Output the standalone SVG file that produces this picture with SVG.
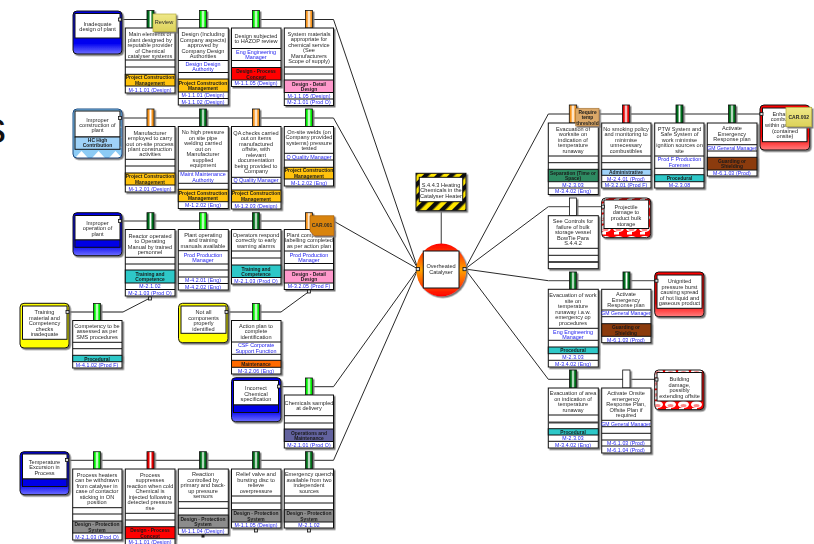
<svg xmlns="http://www.w3.org/2000/svg" width="814" height="544" viewBox="0 0 814 544">
<style>
text{font-family:"Liberation Sans",Arial,sans-serif;text-anchor:middle;fill:#2a2a2a;font-size:5.6px}
.a,.i{fill:#2222ee}
.a{font-size:5.4px}
.i{font-size:5.2px;letter-spacing:.1px}
.m{fill:#1a1a1a;font-weight:bold;font-size:4.9px}
.b{fill:#fff;stroke:#111;stroke-width:1}
.n{filter:url(#sh)}
.ln{fill:none;stroke:#111;stroke-width:1}
.c{fill:none;stroke:#111;stroke-width:.9}
.cg{fill:none;stroke:#666;stroke-width:1.3}
.t{stroke:#111;stroke-width:.8}
.dg{fill:url(#gd)}.bg{fill:url(#gb)}.or{fill:url(#go)}.rd{fill:url(#gr)}.wt{fill:#fff}
.amb{fill:#ffc20e}.pnk{fill:#ff99cc}.tl{fill:#2ec8c8}.gry{fill:#8c8c8c}.red{fill:#f00}.org{fill:#ff6a00}.nav{fill:#62629e}.brn{fill:#8b3a0c}.sep{fill:#2e8b62}.lbl{fill:#9fd2f8}
.bn{stroke:#111;stroke-width:1}
.p{fill:#ddd;stroke:#111;stroke-width:.8}
.th{stroke:#111;stroke-width:1}
</style>
<defs>
<filter id="sh" x="-10%" y="-10%" width="120%" height="120%"><feDropShadow dx="1.5" dy="1.5" stdDeviation=".4" flood-color="#777"/></filter>
<linearGradient id="gd"><stop offset="0" stop-color="#005a14"/><stop offset=".25" stop-color="#00731c"/><stop offset=".5" stop-color="#fff"/><stop offset=".75" stop-color="#00731c"/><stop offset="1" stop-color="#005a14"/></linearGradient>
<linearGradient id="gb"><stop offset="0" stop-color="#00e000"/><stop offset=".22" stop-color="#00f000"/><stop offset=".5" stop-color="#fff"/><stop offset=".78" stop-color="#00f000"/><stop offset="1" stop-color="#00e000"/></linearGradient>
<linearGradient id="go"><stop offset="0" stop-color="#f7941d"/><stop offset=".22" stop-color="#f7941d"/><stop offset=".5" stop-color="#fff"/><stop offset=".78" stop-color="#f7941d"/><stop offset="1" stop-color="#f7941d"/></linearGradient>
<linearGradient id="gr"><stop offset="0" stop-color="#e60000"/><stop offset=".22" stop-color="#e60000"/><stop offset=".5" stop-color="#fff"/><stop offset=".78" stop-color="#e60000"/><stop offset="1" stop-color="#e60000"/></linearGradient>
<linearGradient id="vb" x2="0" y2="1"><stop offset="0" stop-color="#0000e0"/><stop offset=".75" stop-color="#0000f0"/><stop offset="1" stop-color="#7070ff"/></linearGradient>
<linearGradient id="vr" x2="0" y2="1"><stop offset="0" stop-color="#f00"/><stop offset=".7" stop-color="#f00"/><stop offset="1" stop-color="#ff8080"/></linearGradient>
<linearGradient id="te" x2="0" y2="1"><stop offset="0" stop-color="#f00"/><stop offset=".5" stop-color="#ffa500"/><stop offset="1" stop-color="#f00"/></linearGradient>
<linearGradient id="nt" x2="0" y2="1"><stop offset="0" stop-color="#efe888"/><stop offset="1" stop-color="#dcd25a"/></linearGradient>
<pattern id="hz" width="9" height="9" patternUnits="userSpaceOnUse" patternTransform="rotate(45)"><rect width="9" height="9" fill="#ffe600"/><rect width="4.5" height="9" fill="#111"/></pattern>
<pattern id="ck" width="13" height="11" patternUnits="userSpaceOnUse" patternTransform="translate(1 1)"><rect width="13" height="11" fill="#f00"/><ellipse cx="6.5" cy="7.5" rx="5.5" ry="3.5" fill="#fff"/><ellipse cx="6.5" cy="8.5" rx="3" ry="1.6" fill="#f88"/><rect x="2" y="0" width="5" height="2.5" fill="#fff"/></pattern>
<pattern id="ld" width="17" height="10" patternUnits="userSpaceOnUse" patternTransform="translate(73 149)"><rect width="17" height="10" fill="#8ccbf5"/><path d="M8.5 2L15 9H2Z" fill="#fff"/></pattern>
</defs>
<rect width="814" height="544" fill="#fff"/>
<text x="-16" y="143" style="font-size:44px;fill:#111;text-anchor:start">s</text>
<g id="connectors">
<path class="c" d="M122 19.5H333.5L418 269"/>
<path class="c" d="M122 118H333.5L418 269"/>
<path class="c" d="M122 221H333.5L418 269"/>
<path class="c" d="M281 386.7H333.5L418 269"/>
<path class="c" d="M69 460.3H333.5L418 269"/>
<path class="cg" d="M69 312H123"/><path class="c" d="M123 312L150 298"/>
<path class="cg" d="M228 312H281"/><path class="c" d="M281 312L309 291.5"/>
<path class="cg" d="M441.3 210.7V244"/>
<path class="c" d="M465 269L548.3 114H760"/>
<path class="c" d="M465 269L548.3 206.7"/><path class="cg" d="M548.3 206.7H602"/>
<path class="c" d="M465 269L548.3 280.7"/><path class="cg" d="M548.3 280.7H655"/>
<path class="c" d="M465 269L548.3 379.3H655"/>
</g>

<g id="threat-design" class="n"><rect x="73" y="11" width="49" height="43" rx="4" fill="url(#vb)" class="th"/><rect class="b" x="75" y="13.5" width="45" height="24.5"/><text x="97.5" y="26">Inadequate<tspan x="97.5" dy="5.3">design of plant</tspan></text><rect class="p" x="118.5" y="18" width="3" height="3"/></g>

<g id="b11" class="n"><rect class="t dg" x="147" y="10.5" width="7" height="17.5"/><rect class="b" x="125.3" y="28" width="49.7" height="65"/><rect class="bn amb" x="125.3" y="74.3" width="49.7" height="11.7"/><path class="ln" d="M125.3 60H175M125.3 67H175"/>
<text x="150" y="36">Main elements of<tspan x="150" dy="5.5">plant designed by</tspan><tspan x="150" dy="5.5">reputable provider</tspan><tspan x="150" dy="5.5">of Chemical</tspan><tspan x="150" dy="5.5">catalyser systems</tspan></text><text class="m" x="150" y="79.4">Project Construction<tspan x="150" dy="5.5">Management</tspan></text><text class="i" x="150" y="91.5">M-1.1.01 (Design)</text></g>

<g id="note-review" class="n"><rect x="153" y="14" width="23" height="17.7" fill="url(#nt)" stroke="#b5ad3e" stroke-width=".7"/><text x="164" y="24.2">Review</text></g>

<g id="b12" class="n"><rect class="t bg" x="199.5" y="10.5" width="7" height="17.5"/><rect class="b" x="178.3" y="28" width="50" height="77"/><rect class="bn amb" x="178.3" y="79" width="50" height="13"/><path class="ln" d="M178.3 60.5H228.3M178.3 72.5H228.3M178.3 98.5H228.3"/>
<text x="203" y="36">Design (Including<tspan x="203" dy="5.5">Company aspects)</tspan><tspan x="203" dy="5.5">approved by</tspan><tspan x="203" dy="5.5">Company Design</tspan><tspan x="203" dy="5.5">Authorities</tspan></text><text class="a" x="203" y="65.75">Design Design<tspan x="203" dy="5.5">Authority</tspan></text><text class="m" x="203" y="84.75">Project Construction<tspan x="203" dy="5.5">Management</tspan></text><text class="i" x="203" y="97.2">M-1.1.01 (Design)</text><text class="i" x="203" y="103.7">M-1.1.02 (Design)</text></g>

<g id="b13" class="n"><rect class="t bg" x="252.5" y="10.5" width="7" height="17.5"/><rect class="b" x="231.5" y="28" width="49.5" height="58.5"/><rect class="bn red" x="231.5" y="67.5" width="49.5" height="12.5"/><path class="ln" d="M231.5 48.5H281M231.5 60.5H281"/>
<text x="256" y="37.7">Design subjected<tspan x="256" dy="5.2">to HAZOP review</tspan></text><text class="a" x="256" y="53.75">Eng Engineering<tspan x="256" dy="5.5">Manager</tspan></text><text class="m" x="256" y="73">Design - Process<tspan x="256" dy="5.5">Concept</tspan></text><text class="i" x="256" y="85.2">M-1.1.05 (Design)</text></g>

<g id="b14" class="n"><rect class="t or" x="305.5" y="10.5" width="7" height="17.5"/><rect class="b" x="284.3" y="28" width="49.2" height="77.5"/><rect class="bn pnk" x="284.3" y="80" width="49.2" height="12.5"/><path class="ln" d="M284.3 67H333.5M284.3 74H333.5M284.3 99H333.5"/>
<text x="309" y="35.75">System materials<tspan x="309" dy="5.5">appropriate for</tspan><tspan x="309" dy="5.5">chemical service</tspan><tspan x="309" dy="5.5">(See</tspan><tspan x="309" dy="5.5">Manufacturers</tspan><tspan x="309" dy="5.5">Scope of supply)</tspan></text><text class="m" x="309" y="85.5">Design - Detail<tspan x="309" dy="5.5">Design</tspan></text><text class="i" x="309" y="97.7">M-1.1.05 (Design)</text><text class="i" x="309" y="104.2">M-2.1.01 (Prod O)</text></g>

<g id="threat-construction" class="n"><rect x="73" y="109" width="49" height="49" rx="4" fill="url(#ld)" stroke="#1a4a80" stroke-width="1"/><rect class="b" x="75" y="111" width="45" height="26"/><rect class="bn lbl" x="75" y="137" width="45" height="12.3"/><text x="97.5" y="121.7">Improper<tspan x="97.5" dy="5.3">construction of</tspan><tspan x="97.5" dy="5.3">plant</tspan></text><text class="m" x="97.5" y="142">HC High<tspan x="97.5" dy="5">Contribution</tspan></text><rect class="p" x="118.5" y="116.5" width="3" height="3"/></g>

<g id="b21" class="n"><rect class="t or" x="147" y="109" width="7" height="17.5"/><rect class="b" x="125.3" y="126.5" width="49.7" height="65.5"/><rect class="bn amb" x="125.3" y="173" width="49.7" height="12"/><path class="ln" d="M125.3 159.3H175M125.3 166H175"/>
<text x="150" y="134.7">Manufacturer<tspan x="150" dy="5.4">employed to carry</tspan><tspan x="150" dy="5.4">out on-site process</tspan><tspan x="150" dy="5.4">plant construction</tspan><tspan x="150" dy="5.4">activities</tspan></text><text class="m" x="150" y="178.25">Project Construction<tspan x="150" dy="5.5">Management</tspan></text><text class="i" x="150" y="190.5">M-1.2.01 (Design)</text></g>

<g id="b22" class="n"><rect class="t dg" x="199.5" y="109" width="7" height="17.5"/><rect class="b" x="178.3" y="126.5" width="50" height="82"/><rect class="bn amb" x="178.3" y="189.3" width="50" height="12.4"/><path class="ln" d="M178.3 171H228.3M178.3 183.3H228.3"/>
<text x="203" y="134.25">No high pressure<tspan x="203" dy="5.5">on site pipe</tspan><tspan x="203" dy="5.5">welding carried</tspan><tspan x="203" dy="5.5">out on</tspan><tspan x="203" dy="5.5">Manufacturer</tspan><tspan x="203" dy="5.5">supplied</tspan><tspan x="203" dy="5.5">equipment</tspan></text><text class="a" x="203" y="176.4">Maint Maintenance<tspan x="203" dy="5.5">Authority</tspan></text><text class="m" x="203" y="194.75">Project Construction<tspan x="203" dy="5.5">Management</tspan></text><text class="i" x="203" y="207.1">M-1.2.02 (Eng)</text></g>

<g id="b23" class="n"><rect class="t or" x="252.5" y="109" width="7" height="17.5"/><rect class="b" x="231.5" y="126.5" width="49.5" height="82.5"/><rect class="bn amb" x="231.5" y="190" width="49.5" height="12"/><path class="ln" d="M231.5 177.3H281M231.5 183.3H281"/>
<text x="256" y="134.65">QA checks carried<tspan x="256" dy="5.5">out on items</tspan><tspan x="256" dy="5.5">manufactured</tspan><tspan x="256" dy="5.5">offsite, with</tspan><tspan x="256" dy="5.5">relevant</tspan><tspan x="256" dy="5.5">documentation</tspan><tspan x="256" dy="5.5">being provided to</tspan><tspan x="256" dy="5.5">Company</tspan></text><text class="a" x="256" y="182.3">Q Quality Manager</text><text class="m" x="256" y="195.25">Project Construction<tspan x="256" dy="5.5">Management</tspan></text><text class="i" x="256" y="207.5">M-1.2.03 (Design)</text></g>

<g id="b24" class="n"><rect class="t bg" x="305.5" y="109" width="7" height="17.5"/><rect class="b" x="284.3" y="126.5" width="49.2" height="59.5"/><rect class="bn amb" x="284.3" y="167.3" width="49.2" height="11.7"/><path class="ln" d="M284.3 153.3H333.5M284.3 160H333.5"/>
<text x="309" y="133.65">On-site welds (on<tspan x="309" dy="5.5">Company provided</tspan><tspan x="309" dy="5.5">systems) pressure</tspan><tspan x="309" dy="5.5">tested</tspan></text><text class="a" x="309" y="158.65">Q Quality Manager</text><text class="m" x="309" y="172.4">Project Construction<tspan x="309" dy="5.5">Management</tspan></text><text class="i" x="309" y="184.5">M-1.2.02 (Eng)</text></g>

<g id="threat-operation" class="n"><rect x="73" y="212.7" width="49" height="43" rx="4" fill="url(#vb)" class="th"/><rect class="b" x="75" y="215.5" width="45" height="24.5"/><rect x="75" y="240" width="45" height="7.3" fill="#0000e6" stroke="#111" stroke-width="1"/><text x="97.5" y="224.7">Improper<tspan x="97.5" dy="5.5">operation of</tspan><tspan x="97.5" dy="5.5">plant</tspan></text><rect class="p" x="118.5" y="219.5" width="3" height="3"/></g>

<g id="b31" class="n"><rect class="t dg" x="147" y="212.7" width="7" height="16.8"/><rect class="b" x="125.3" y="229.5" width="49.7" height="66.5"/><rect class="bn tl" x="125.3" y="270" width="49.7" height="13"/><path class="ln" d="M125.3 257.3H175M125.3 264H175M125.3 289.5H175"/>
<text x="150" y="237.7">Reactor operated<tspan x="150" dy="5.5">to Operating</tspan><tspan x="150" dy="5.5">Manual by trained</tspan><tspan x="150" dy="5.5">personnel</tspan></text><text class="m" x="150" y="275.75">Training and<tspan x="150" dy="5.5">Competence</tspan></text><text class="i" x="150" y="288.25">M-2.1.02</text><text class="i" x="150" y="294.75">M-2.1.03 (Prod O)</text></g>

<g id="b32" class="n"><rect class="t bg" x="199.5" y="212.7" width="7" height="16.8"/><rect class="b" x="178.3" y="229.5" width="50" height="60.5"/><path class="ln" d="M178.3 250.7H228.3M178.3 264H228.3M178.3 270H228.3M178.3 277H228.3M178.3 283.5H228.3"/>
<text x="203" y="236.6">Plant operating<tspan x="203" dy="5.5">and training</tspan><tspan x="203" dy="5.5">manuals available</tspan></text><text class="a" x="203" y="256.6">Prod Production<tspan x="203" dy="5.5">Manager</tspan></text><text class="i" x="203" y="282.25">M-4.2.01 (Eng)</text><text class="i" x="203" y="288.75">M-4.2.02 (Eng)</text></g>

<g id="b33" class="n"><rect class="t dg" x="252.5" y="212.7" width="7" height="16.8"/><rect class="b" x="231.5" y="229.5" width="49.5" height="54.5"/><rect class="bn tl" x="231.5" y="265" width="49.5" height="12.5"/><path class="ln" d="M231.5 251H281M231.5 258H281"/>
<text x="256" y="236.8">Operators respond<tspan x="256" dy="5.5">correctly to early</tspan><tspan x="256" dy="5.5">warning alarms</tspan></text><text class="m" x="256" y="270.5">Training and<tspan x="256" dy="5.5">Competence</tspan></text><text class="i" x="256" y="282.75">M-2.1.03 (Prod O)</text></g>

<g id="b34" class="n"><rect class="t or" x="305.5" y="212.7" width="7" height="16.8"/><rect class="b" x="284.3" y="229.5" width="49.2" height="60"/><rect class="bn pnk" x="284.3" y="270" width="49.2" height="13"/><path class="ln" d="M284.3 251H333.5M284.3 263.5H333.5"/>
<text x="309" y="236.8">Plant components<tspan x="309" dy="5.5">labelling completed</tspan><tspan x="309" dy="5.5">as per action plan</tspan></text><text class="a" x="309" y="256.5">Prod Production<tspan x="309" dy="5.5">Manager</tspan></text><text class="m" x="309" y="275.75">Design - Detail<tspan x="309" dy="5.5">Design</tspan></text><text class="i" x="309" y="288.25">M-3.2.05 (Prod F)</text></g>

<g id="note-car001" class="n"><path d="M310 215.7H334V235.7L314 235.7L310 231Z" fill="#d9840c" stroke="#a86000" stroke-width=".7"/><text x="322" y="227" style="font-weight:bold;font-size:5px">CAR.001</text></g>

<g id="threat-training" class="n"><rect x="20" y="303.3" width="49" height="44.7" rx="4" fill="#ff0" class="th"/><rect class="b" x="22.5" y="306" width="44.5" height="33.3"/><text x="44.5" y="314">Training<tspan x="44.5" dy="5.5">material and</tspan><tspan x="44.5" dy="5.5">Competency</tspan><tspan x="44.5" dy="5.5">checks</tspan><tspan x="44.5" dy="5.5">inadequate</tspan></text><rect class="p" x="66" y="310.5" width="3" height="3"/></g>

<g id="b35" class="n"><rect class="t bg" x="93.5" y="303.5" width="7" height="17"/><rect class="b" x="72.7" y="320.5" width="49.3" height="47.5"/><rect class="bn tl" x="72.7" y="355.3" width="49.3" height="6.4"/><path class="ln" d="M72.7 342.3H122M72.7 348.7H122"/>
<text x="97" y="327.9">Competency to be<tspan x="97" dy="5.5">assessed as per</tspan><tspan x="97" dy="5.5">SMS procedures</tspan></text><text class="m" x="97" y="360.5">Procedural</text><text class="i" x="97" y="366.85">M-4.1.02 (Prod F)</text></g>
<rect class="p" x="148.5" y="297" width="3" height="3" fill="#333"/>

<g id="threat-components" class="n"><rect x="178.5" y="303.3" width="49.5" height="39.4" rx="4" fill="#ff0" class="th"/><rect class="b" x="181" y="306" width="45" height="27.3"/><text x="203.5" y="314">Not all<tspan x="203.5" dy="5.5">components</tspan><tspan x="203.5" dy="5.5">properly</tspan><tspan x="203.5" dy="5.5">identified</tspan></text><rect class="p" x="225" y="310.5" width="3" height="3"/></g>

<g id="b36" class="n"><rect class="t bg" x="252.5" y="303.5" width="7" height="17"/><rect class="b" x="231.5" y="320.5" width="49.5" height="53.5"/><rect class="bn org" x="231.5" y="360.3" width="49.5" height="7"/><path class="ln" d="M231.5 342H281M231.5 354.3H281"/>
<text x="256" y="327.75">Action plan to<tspan x="256" dy="5.5">complete</tspan><tspan x="256" dy="5.5">identification</tspan></text><text class="a" x="256" y="347.4">CSF Corporate<tspan x="256" dy="5.5">Support Function</tspan></text><text class="m" x="256" y="365.8">Maintenance</text><text class="i" x="256" y="372.65">M-3.2.06 (Eng)</text></g>
<rect class="p" x="307.5" y="290" width="3" height="3"/>

<g id="threat-chemical" class="n"><rect x="231.5" y="377.7" width="49.5" height="44" rx="4" fill="url(#vb)" class="th"/><rect class="b" x="233.5" y="380.5" width="45" height="24.5"/><rect x="233.5" y="405" width="45" height="7.5" fill="#0000e6" stroke="#111" stroke-width="1"/><text x="256" y="390">Incorrect<tspan x="256" dy="5.7">Chemical</tspan><tspan x="256" dy="5.3">specification</tspan></text><rect class="p" x="277.5" y="385" width="3" height="3"/></g>

<g id="b37" class="n"><rect class="t bg" x="305.5" y="378" width="7" height="17"/><rect class="b" x="284.3" y="395" width="49.2" height="53"/><rect class="bn nav" x="284.3" y="429" width="49.2" height="12.5"/><path class="ln" d="M284.3 415.7H333.5M284.3 423H333.5"/>
<text x="309" y="404.6">Chemicals sampled<tspan x="309" dy="5.5">at delivery</tspan></text><text class="m" x="309" y="434.5">Operations and<tspan x="309" dy="5.5">Maintenance</tspan></text><text class="i" x="309" y="446.75">M-2.1.01 (Prod O)</text></g>

<g id="threat-temperature" class="n"><rect x="20" y="451.7" width="49" height="43" rx="4" fill="url(#vb)" class="th"/><rect class="b" x="22.5" y="454" width="44.5" height="25"/><rect x="22.5" y="479" width="44.5" height="7.5" fill="#0000e6" stroke="#111" stroke-width="1"/><text x="44.5" y="463.7">Temperature<tspan x="44.5" dy="5.5">Excursion in</tspan><tspan x="44.5" dy="5.5">Process</tspan></text><rect class="p" x="65.5" y="458.5" width="3" height="3"/></g>

<g id="b51" class="n"><rect class="t bg" x="93.5" y="451.7" width="7" height="17.3"/><rect class="b" x="72.7" y="469" width="49.3" height="71"/><rect class="bn gry" x="72.7" y="521" width="49.3" height="12"/><path class="ln" d="M72.7 507.7H122M72.7 514H122"/>
<text x="97" y="476.6">Process heaters<tspan x="97" dy="5.5">can be withdrawn</tspan><tspan x="97" dy="5.5">from catalyser in</tspan><tspan x="97" dy="5.5">case of contactor</tspan><tspan x="97" dy="5.5">sticking in ON</tspan><tspan x="97" dy="5.5">position</tspan></text><text class="m" x="97" y="526.25">Design - Protection<tspan x="97" dy="5.5">System</tspan></text><text class="i" x="97" y="538.5">M-2.1.03 (Prod O)</text></g>

<g id="b52" class="n"><rect class="t rd" x="147" y="451.7" width="7" height="17.3"/><rect class="b" x="125.3" y="469" width="49.7" height="76"/><rect class="bn red" x="125.3" y="526.7" width="49.7" height="12"/><path class="ln" d="M125.3 513.3H175M125.3 520H175"/>
<text x="150" y="476.65">Process<tspan x="150" dy="5.5">suppresses</tspan><tspan x="150" dy="5.5">reaction when cold</tspan><tspan x="150" dy="5.5">Chemical is</tspan><tspan x="150" dy="5.5">injected following</tspan><tspan x="150" dy="5.5">detected pressure</tspan><tspan x="150" dy="5.5">rise</tspan></text><text class="m" x="150" y="532">Design - Process<tspan x="150" dy="5.5">Concept</tspan></text><text class="i" x="150" y="543.9">M-1.1.01 (Design)</text></g>

<g id="b53" class="n"><rect class="t dg" x="199.5" y="451.7" width="7" height="17.3"/><rect class="b" x="178.3" y="469" width="50" height="65.3"/><rect class="bn gry" x="178.3" y="515" width="50" height="13"/><path class="ln" d="M178.3 501.7H228.3M178.3 508.3H228.3"/>
<text x="203" y="476.35">Reaction<tspan x="203" dy="5.5">controlled by</tspan><tspan x="203" dy="5.5">primary and back-</tspan><tspan x="203" dy="5.5">up pressure</tspan><tspan x="203" dy="5.5">sensors</tspan></text><text class="m" x="203" y="520.75">Design - Protection<tspan x="203" dy="5.5">System</tspan></text><text class="i" x="203" y="533.15">M-1.1.04 (Design)</text></g>
<rect x="201.5" y="534.5" width="3" height="3" fill="#222"/>

<g id="b54" class="n"><rect class="t dg" x="252.5" y="451.7" width="7" height="17.3"/><rect class="b" x="231.5" y="469" width="49.5" height="59"/><rect class="bn gry" x="231.5" y="509.7" width="49.5" height="12.3"/><path class="ln" d="M231.5 496H281M231.5 503H281"/>
<text x="256" y="476.25">Relief valve and<tspan x="256" dy="5.5">bursting disc to</tspan><tspan x="256" dy="5.5">relieve</tspan><tspan x="256" dy="5.5">overpressure</tspan></text><text class="m" x="256" y="515.1">Design - Protection<tspan x="256" dy="5.5">System</tspan></text><text class="i" x="256" y="527">M-1.1.05 (Design)</text></g>
<rect class="p" x="254.5" y="529" width="3" height="3"/>

<g id="b55" class="n"><rect class="t dg" x="305.5" y="451.7" width="7" height="17.3"/><rect class="b" x="284.3" y="469" width="49.2" height="59"/><rect class="bn gry" x="284.3" y="509.7" width="49.2" height="12.3"/><path class="ln" d="M284.3 496H333.5M284.3 503H333.5"/>
<text x="309" y="476.25">Emergency quench<tspan x="309" dy="5.5">available from two</tspan><tspan x="309" dy="5.5">independent</tspan><tspan x="309" dy="5.5">sources</tspan></text><text class="m" x="309" y="515.1">Design - Protection<tspan x="309" dy="5.5">System</tspan></text><text class="i" x="309" y="527">M-2.1.02</text></g>
<rect class="p" x="307.5" y="529" width="3" height="3"/>

<g id="hazard" class="n"><rect x="416" y="173.3" width="50" height="37.4" fill="url(#hz)" stroke="#111"/><rect class="b" x="419.3" y="177.3" width="43.4" height="24.4"/><text x="441" y="187">S.4.4.3 Heating<tspan x="441" dy="5.2">Chemicals in the</tspan><tspan x="441" dy="5.4">Catalyser Heater</tspan></text></g>

<g id="top-event" class="n"><ellipse cx="441.3" cy="270" rx="25" ry="26.5" fill="url(#te)"/><rect class="b" x="423.3" y="251" width="35.7" height="37"/><text x="441" y="268">Overheated<tspan x="441" dy="5.5">Catalyser</tspan></text><rect class="p" x="416.2" y="267.5" width="3.2" height="3.2"/><rect class="p" x="463" y="267.5" width="3.2" height="3.2"/></g>

<g id="a1" class="n"><rect class="t or" x="569.3" y="105" width="7.4" height="18"/><rect class="b" x="548.3" y="123" width="50" height="71.5"/><rect class="bn sep" x="548.3" y="169.3" width="50" height="12.4"/><path class="ln" d="M548.3 156H598.3M548.3 162.7H598.3M548.3 188H598.3"/>
<text x="573" y="130.5">Evacuation of<tspan x="573" dy="5.5">worksite on</tspan><tspan x="573" dy="5.5">indication of</tspan><tspan x="573" dy="5.5">temperature</tspan><tspan x="573" dy="5.5">runaway</tspan></text><text class="m" x="573" y="174.75">Separation (Time or<tspan x="573" dy="5.5">Space)</tspan></text><text class="i" x="573" y="186.85">M-2.3.03</text><text class="i" x="573" y="193.25">M-3.4.02 (Eng)</text></g>
<g id="note-require" class="n"><rect x="575.7" y="108.3" width="23.3" height="17.7" fill="#dba868" stroke="#a8783c" stroke-width=".7"/><text x="587.5" y="113.5" class="m">Require<tspan x="587.5" dy="5.5">temp</tspan><tspan x="587.5" dy="5.5">threshold</tspan></text></g>

<g id="a2" class="n"><rect class="t rd" x="622.5" y="105" width="7" height="18"/><rect class="b" x="601.7" y="123" width="49.3" height="65"/><rect class="bn lbl" x="601.7" y="169.3" width="49.3" height="6"/><path class="ln" d="M601.7 156H651M601.7 162.7H651M601.7 181.7H651"/>
<text x="626" y="130.5">No smoking policy<tspan x="626" dy="5.5">and monitoring to</tspan><tspan x="626" dy="5.5">minimise</tspan><tspan x="626" dy="5.5">unnecessary</tspan><tspan x="626" dy="5.5">combustibles</tspan></text><text class="m" x="626" y="174.3">Administrative</text><text class="i" x="626" y="180.5">M-2.4.01 (Prod)</text><text class="i" x="626" y="186.85">M-3.2.01 (Prod F)</text></g>

<g id="a3" class="n"><rect class="t dg" x="676" y="105" width="7" height="18"/><rect class="b" x="654.7" y="123" width="49.3" height="65"/><rect class="bn tl" x="654.7" y="174.7" width="49.3" height="7"/><path class="ln" d="M654.7 156H704M654.7 168.3H704"/>
<text x="679.5" y="130.5">PTW System and<tspan x="679.5" dy="5.5">Safe System of</tspan><tspan x="679.5" dy="5.5">work minimise</tspan><tspan x="679.5" dy="5.5">ignition sources on</tspan><tspan x="679.5" dy="5.5">site</tspan></text><text class="a" x="679.5" y="161.4">Prod F Production<tspan x="679.5" dy="5.5">Foremen</tspan></text><text class="m" x="679.5" y="180.2">Procedural</text><text class="i" x="679.5" y="186.85">M-2.3.08</text></g>

<g id="a4" class="n"><rect class="t dg" x="728.5" y="105" width="7" height="18"/><rect class="b" x="707.3" y="123" width="49.7" height="53"/><rect class="bn brn" x="707.3" y="157.3" width="49.7" height="12.7"/><path class="ln" d="M707.3 144.7H757M707.3 151H757"/>
<text x="732" y="130.35">Activate<tspan x="732" dy="5.5">Emergency</tspan><tspan x="732" dy="5.5">Response plan</tspan></text><text class="a" x="732" y="149.85" style="font-size:5.1px">GM General Manager</text><text class="m" x="732" y="162.9">Guarding or<tspan x="732" dy="5.5">Shielding</tspan></text><text class="i" x="732" y="175">M-6.1.03 (Prod)</text></g>

<g id="cons-combustion" class="n"><rect x="760" y="105" width="49.7" height="45" rx="4" fill="url(#vr)" class="th"/><rect class="b" x="762.5" y="108" width="44.5" height="33.7"/><text x="785" y="116">Enhanced<tspan x="785" dy="5.4">combustion</tspan><tspan x="785" dy="5.6">within gas cloud</tspan><tspan x="785" dy="5.6">(contained</tspan><tspan x="785" dy="5.6">onsite)</tspan></text><rect class="p" x="760" y="112.5" width="3" height="3"/></g>
<g id="note-car002" class="n"><rect x="786" y="107.3" width="25.7" height="19.4" fill="url(#nt)" stroke="#b5ad3e" stroke-width=".7"/><text x="798.8" y="118.5" style="font-weight:bold;font-size:5px">CAR.002</text></g>

<g id="r1" class="n"><rect class="t wt" x="569.5" y="198" width="7" height="17.7"/><rect class="b" x="548.3" y="215.7" width="50" height="53"/><path class="ln" d="M548.3 248.3H598.3M548.3 255.3H598.3M548.3 262H598.3"/><path d="M548.3 262H598.3" stroke="#333" stroke-width="1.6"/>
<text x="573" y="223">See Controls for<tspan x="573" dy="5.5">failure of  bulk</tspan><tspan x="573" dy="5.5">storage vessel</tspan><tspan x="573" dy="5.5">BowTie Para</tspan><tspan x="573" dy="5.5">S.4.4.2</tspan></text></g>

<g id="cons-projectile" class="n"><rect x="601.7" y="198" width="49" height="39.7" rx="4" fill="url(#ck)" class="th"/><rect class="b" x="604" y="200" width="44.7" height="28.5"/><text x="626" y="209">Projectile<tspan x="626" dy="5.3">damage to</tspan><tspan x="626" dy="5.6">product bulk</tspan><tspan x="626" dy="5.6">storage</tspan></text><rect class="p" x="601.5" y="205.2" width="3" height="3"/></g>

<g id="c1" class="n"><rect class="t dg" x="569.5" y="272" width="7" height="17.3"/><rect class="b" x="548.3" y="289.3" width="50" height="77.7"/><rect class="bn tl" x="548.3" y="347" width="50" height="6.7"/><path class="ln" d="M548.3 328.3H598.3M548.3 340.3H598.3M548.3 360.3H598.3"/>
<text x="573" y="297.05">Evacuation of work<tspan x="573" dy="5.5">site on</tspan><tspan x="573" dy="5.5">temperature</tspan><tspan x="573" dy="5.5">runaway i.a.w.</tspan><tspan x="573" dy="5.5">emergency op</tspan><tspan x="573" dy="5.5">procedures</tspan></text><text class="a" x="573" y="333.55">Eng Engineering<tspan x="573" dy="5.5">Manager</tspan></text><text class="m" x="573" y="352.35">Procedural</text><text class="i" x="573" y="359">M-2.3.03</text><text class="i" x="573" y="365.65">M-3.4.02 (Eng)</text></g>

<g id="c2" class="n"><rect class="t dg" x="623" y="272" width="7" height="17.3"/><rect class="b" x="601.7" y="289.3" width="49.3" height="53.4"/><rect class="bn brn" x="601.7" y="323.7" width="49.3" height="12.6"/><path class="ln" d="M601.7 310H651M601.7 316.7H651"/>
<text x="626" y="296.15">Activate<tspan x="626" dy="5.5">Emergency</tspan><tspan x="626" dy="5.5">Response plan</tspan></text><text class="a" x="626" y="315.35" style="font-size:5.1px">GM General Manager</text><text class="m" x="626" y="329.25">Guarding or<tspan x="626" dy="5.5">Shielding</tspan></text><text class="i" x="626" y="341.5">M-6.1.03 (Prod)</text></g>

<g id="cons-burst" class="n"><rect x="654.7" y="272" width="49.3" height="44.7" rx="4" fill="url(#vr)" class="th"/><rect class="b" x="657" y="275" width="45" height="33.3"/><text x="679.5" y="283">Unignited<tspan x="679.5" dy="5.5">pressure burst</tspan><tspan x="679.5" dy="5.5">causing spread</tspan><tspan x="679.5" dy="5.5">of hot liquid and</tspan><tspan x="679.5" dy="5.5">gaseous product</tspan></text><rect class="p" x="655" y="279.2" width="3" height="3"/></g>

<g id="d1" class="n"><rect class="t dg" x="569.5" y="370" width="7" height="18"/><rect class="b" x="548.3" y="388" width="50" height="60"/><rect x="548.3" y="421.5" width="50" height="2" fill="#444"/><rect class="bn tl" x="548.3" y="428.7" width="50" height="6.3"/><path class="ln" d="M548.3 415H598.3M548.3 441.3H598.3"/>
<text x="573" y="395.25">Evacuation of area<tspan x="573" dy="5.5">on indication of</tspan><tspan x="573" dy="5.5">temperature</tspan><tspan x="573" dy="5.5">runaway</tspan></text><text class="m" x="573" y="433.85">Procedural</text><text class="i" x="573" y="440.15">M-2.3.03</text><text class="i" x="573" y="446.65">M-3.4.02 (Eng)</text></g>

<g id="d2" class="n"><rect class="t wt" x="622.7" y="370" width="7.3" height="18"/><rect class="b" x="601.7" y="388" width="49.3" height="65"/><path class="ln" d="M601.7 420.3H651M601.7 426.7H651M601.7 433.3H651M601.7 440H651M601.7 446H651"/>
<text x="626" y="395.15">Activate Onsite<tspan x="626" dy="5.5">emergency</tspan><tspan x="626" dy="5.5">Response Plan,</tspan><tspan x="626" dy="5.5">Offsite Plan if</tspan><tspan x="626" dy="5.5">required</tspan></text><text class="a" x="626" y="425.5" style="font-size:5.1px">GM General Manager</text><text class="i" x="626" y="445">M-6.1.03 (Prod)</text><text class="i" x="626" y="451.5">M-6.1.04 (Prod)</text></g>

<g id="cons-building" class="n"><rect x="654.7" y="370" width="49.3" height="39.7" rx="4" fill="url(#ck)" class="th"/><rect class="b" x="657" y="372.5" width="45" height="28.5"/><text x="679.5" y="381">Building<tspan x="679.5" dy="5.5">damage,</tspan><tspan x="679.5" dy="5.5">possibly</tspan><tspan x="679.5" dy="5.5">extending offsite</tspan></text><rect class="p" x="655" y="378" width="3" height="3"/></g>
</svg>
